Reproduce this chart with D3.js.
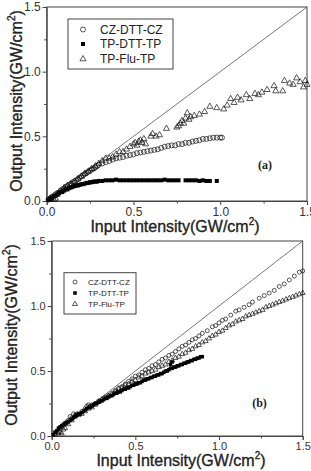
<!DOCTYPE html>
<html><head><meta charset="utf-8">
<script src="https://cdn.jsdelivr.net/npm/d3@7"></script>
<style>body{margin:0;background:#fff}svg{display:block}</style>
</head><body>
<svg id="c" width="311" height="471"></svg>
<script>
// ---------- DATA ----------
const seriesNames = ["CZ-DTT-CZ", "TP-DTT-TP", "TP-Flu-TP"];
const majorTicks = [0, 0.5, 1.0, 1.5];
const minorTicks = [0.25, 0.75, 1.25];
const panelLabels = ["(a)", "(b)"];

// Panel (a)
const aCZ = [[0.01,0.01],[0.02,0.02],[0.03,0.03],[0.04,0.035],[0.05,0.05],[0.06,0.06],[0.07,0.065],[0.08,0.08],[0.09,0.09],[0.10,0.095],[0.11,0.11],[0.12,0.115],[0.13,0.125],[0.14,0.135],[0.15,0.145],[0.16,0.15],[0.17,0.16],[0.18,0.17],[0.19,0.18],[0.20,0.19],[0.21,0.20],[0.22,0.21],[0.23,0.22],[0.24,0.225],[0.25,0.235],[0.26,0.245],[0.27,0.25],[0.28,0.26],[0.29,0.27],[0.30,0.28],[0.32,0.29],[0.34,0.30],[0.36,0.31],[0.38,0.32],[0.40,0.33],[0.42,0.335],[0.44,0.34],[0.46,0.35],[0.48,0.355],[0.50,0.36],[0.52,0.37],[0.54,0.375],[0.56,0.38],[0.58,0.385],[0.60,0.39],[0.62,0.395],[0.64,0.40],[0.66,0.41],[0.68,0.42],[0.70,0.425],[0.72,0.43],[0.74,0.43],[0.76,0.44],[0.78,0.44],[0.80,0.45],[0.82,0.45],[0.84,0.46],[0.86,0.465],[0.88,0.47],[0.90,0.48],[0.92,0.48],[0.94,0.485],[0.96,0.49],[0.98,0.49],[1.00,0.49],[1.01,0.49]];
const aTPDTT = [[0.01,0.01],[0.02,0.02],[0.03,0.02],[0.04,0.04],[0.05,0.04],[0.06,0.05],[0.07,0.06],[0.08,0.07],[0.09,0.07],[0.10,0.08],[0.11,0.09],[0.12,0.09],[0.13,0.10],[0.14,0.105],[0.15,0.11],[0.16,0.115],[0.17,0.12],[0.18,0.12],[0.19,0.125],[0.20,0.13],[0.21,0.13],[0.22,0.135],[0.23,0.14],[0.24,0.14],[0.25,0.145],[0.26,0.145],[0.27,0.15],[0.28,0.15],[0.29,0.15],[0.30,0.155],[0.32,0.155],[0.34,0.16],[0.36,0.16],[0.38,0.16],[0.40,0.165],[0.42,0.16],[0.44,0.16],[0.46,0.16],[0.48,0.16],[0.50,0.16],[0.52,0.16],[0.54,0.16],[0.56,0.16],[0.58,0.16],[0.60,0.16],[0.62,0.16],[0.64,0.16],[0.66,0.16],[0.68,0.165],[0.70,0.16],[0.72,0.16],[0.74,0.16],[0.76,0.16],[0.80,0.16],[0.82,0.16],[0.84,0.16],[0.86,0.16],[0.88,0.155],[0.90,0.16],[0.92,0.155],[0.94,0.155],[0.98,0.155]];
const aTPFlu = [[0.02,0.02],[0.04,0.01],[0.05,0.02],[0.06,0.05],[0.08,0.07],[0.10,0.10],[0.12,0.12],[0.14,0.13],[0.16,0.15],[0.18,0.17],[0.20,0.19],[0.22,0.21],[0.24,0.23],[0.26,0.25],[0.28,0.27],[0.30,0.29],[0.32,0.31],[0.34,0.33],[0.36,0.33],[0.38,0.34],[0.40,0.36],[0.42,0.38],[0.44,0.38],[0.46,0.40],[0.48,0.42],[0.50,0.44],[0.51,0.45],[0.52,0.43],[0.53,0.46],[0.54,0.47],[0.55,0.45],[0.56,0.48],[0.57,0.44],[0.60,0.50],[0.61,0.52],[0.63,0.50],[0.65,0.51],[0.69,0.56],[0.75,0.57],[0.76,0.58],[0.77,0.60],[0.78,0.62],[0.79,0.60],[0.80,0.64],[0.81,0.68],[0.82,0.63],[0.83,0.65],[0.85,0.66],[0.88,0.67],[0.91,0.69],[0.94,0.73],[0.98,0.72],[1.02,0.71],[1.04,0.74],[1.06,0.79],[1.08,0.76],[1.10,0.80],[1.12,0.78],[1.15,0.82],[1.17,0.79],[1.20,0.83],[1.22,0.82],[1.24,0.84],[1.27,0.86],[1.31,0.89],[1.32,0.85],[1.36,0.85],[1.37,0.93],[1.40,0.91],[1.42,0.90],[1.44,0.95],[1.46,0.92],[1.48,0.88],[1.49,0.93],[1.50,0.90]];

// Panel (b)
const bCZ = [[0.02,0.02],[0.04,0.03],[0.05,0.06],[0.06,0.07],[0.08,0.09],[0.09,0.11],[0.10,0.12],[0.11,0.15],[0.12,0.14],[0.13,0.17],[0.14,0.16],[0.15,0.17],[0.16,0.17],[0.18,0.19],[0.20,0.21],[0.21,0.23],[0.22,0.24],[0.23,0.23],[0.24,0.24],[0.26,0.25],[0.28,0.27],[0.30,0.28],[0.32,0.30],[0.34,0.31],[0.36,0.33],[0.38,0.35],[0.40,0.37],[0.42,0.38],[0.44,0.40],[0.46,0.42],[0.48,0.44],[0.50,0.46],[0.52,0.47],[0.54,0.49],[0.56,0.51],[0.58,0.52],[0.60,0.54],[0.62,0.55],[0.64,0.57],[0.66,0.59],[0.68,0.60],[0.70,0.62],[0.72,0.63],[0.74,0.65],[0.76,0.67],[0.78,0.69],[0.80,0.70],[0.82,0.72],[0.84,0.74],[0.86,0.75],[0.88,0.77],[0.90,0.79],[0.93,0.81],[0.96,0.84],[0.98,0.85],[1.00,0.87],[1.02,0.89],[1.04,0.90],[1.07,0.93],[1.10,0.96],[1.12,0.97],[1.15,0.99],[1.18,1.01],[1.20,1.03],[1.24,1.06],[1.27,1.08],[1.30,1.10],[1.33,1.12],[1.36,1.15],[1.39,1.17],[1.42,1.20],[1.45,1.23],[1.48,1.26],[1.50,1.27]];
const bTPDTT = [[0.01,0.01],[0.02,0.03],[0.03,0.04],[0.04,0.06],[0.05,0.07],[0.06,0.08],[0.07,0.09],[0.08,0.10],[0.09,0.10],[0.10,0.11],[0.11,0.12],[0.12,0.13],[0.13,0.14],[0.14,0.15],[0.15,0.16],[0.16,0.17],[0.17,0.17],[0.18,0.18],[0.19,0.19],[0.20,0.20],[0.21,0.21],[0.22,0.22],[0.23,0.22],[0.24,0.23],[0.25,0.24],[0.26,0.25],[0.27,0.25],[0.28,0.26],[0.29,0.27],[0.30,0.27],[0.31,0.28],[0.32,0.29],[0.33,0.29],[0.34,0.30],[0.35,0.31],[0.36,0.31],[0.37,0.32],[0.38,0.33],[0.39,0.33],[0.40,0.34],[0.41,0.34],[0.42,0.35],[0.43,0.36],[0.44,0.36],[0.45,0.37],[0.46,0.37],[0.47,0.38],[0.48,0.39],[0.49,0.39],[0.50,0.40],[0.51,0.40],[0.52,0.41],[0.53,0.41],[0.54,0.42],[0.55,0.43],[0.56,0.43],[0.57,0.44],[0.58,0.44],[0.59,0.45],[0.60,0.45],[0.61,0.46],[0.62,0.46],[0.63,0.47],[0.64,0.47],[0.65,0.48],[0.66,0.48],[0.67,0.49],[0.68,0.50],[0.69,0.50],[0.70,0.51],[0.71,0.52],[0.71,0.55],[0.72,0.52],[0.72,0.57],[0.73,0.53],[0.74,0.53],[0.75,0.54],[0.76,0.54],[0.77,0.55],[0.78,0.55],[0.79,0.56],[0.80,0.56],[0.81,0.57],[0.82,0.57],[0.83,0.58],[0.84,0.58],[0.85,0.59],[0.86,0.59],[0.87,0.60],[0.88,0.60],[0.89,0.61],[0.90,0.61]];
const bTPFlu = [[0.02,0.01],[0.04,0.02],[0.05,0.03],[0.06,0.02],[0.07,0.05],[0.08,0.06],[0.10,0.09],[0.12,0.12],[0.14,0.15],[0.16,0.16],[0.18,0.17],[0.20,0.19],[0.22,0.21],[0.24,0.22],[0.26,0.24],[0.28,0.26],[0.30,0.28],[0.32,0.29],[0.34,0.31],[0.36,0.32],[0.38,0.34],[0.40,0.36],[0.42,0.37],[0.44,0.39],[0.46,0.40],[0.48,0.42],[0.50,0.43],[0.52,0.45],[0.54,0.46],[0.56,0.48],[0.58,0.49],[0.60,0.50],[0.62,0.51],[0.64,0.53],[0.66,0.54],[0.68,0.55],[0.70,0.57],[0.72,0.58],[0.74,0.60],[0.76,0.61],[0.78,0.63],[0.80,0.64],[0.82,0.66],[0.84,0.67],[0.86,0.69],[0.88,0.70],[0.90,0.72],[0.92,0.73],[0.94,0.75],[0.96,0.77],[0.98,0.78],[1.00,0.80],[1.02,0.81],[1.04,0.83],[1.06,0.85],[1.08,0.86],[1.10,0.88],[1.12,0.89],[1.14,0.90],[1.16,0.92],[1.18,0.93],[1.20,0.94],[1.22,0.95],[1.24,0.96],[1.26,0.97],[1.28,0.99],[1.30,1.00],[1.32,1.01],[1.34,1.02],[1.36,1.03],[1.38,1.04],[1.40,1.05],[1.42,1.06],[1.44,1.07],[1.46,1.08],[1.48,1.09],[1.50,1.10]];

// ---------- DRAW ----------
const svg = d3.select("#c");
const FONT = "'Liberation Sans', Arial, sans-serif";

function drawPanel(o) {
  const x = d3.scaleLinear().domain([0, 1.5]).range([o.x0, o.x1]);
  const y = d3.scaleLinear().domain([0, 1.5]).range([o.y0, o.y1]);
  const g = svg.append("g");

  // frame
  g.append("rect").attr("x", o.x0).attr("y", o.y1).attr("width", o.x1 - o.x0).attr("height", o.y0 - o.y1)
    .attr("fill", "none").attr("stroke", "#444").attr("stroke-width", 1);

  // axes
  const xAx = d3.axisBottom(x).tickValues(majorTicks).tickFormat(d3.format(".1f")).tickSize(4).tickPadding(2);
  const yAx = d3.axisLeft(y).tickValues(majorTicks).tickFormat(d3.format(".1f")).tickSize(4).tickPadding(2);
  const gx = g.append("g").attr("transform", `translate(0,${o.y0})`).call(xAx);
  const gy = g.append("g").attr("transform", `translate(${o.x0},0)`).call(yAx);
  [gx, gy].forEach(a => {
    a.select(".domain").attr("stroke", "#444");
    a.selectAll(".tick line").attr("stroke", "#444");
    a.selectAll(".tick text").attr("font-family", FONT).attr("font-size", o.tickFs).attr("fill", "#333");
  });
  g.append("g").attr("transform", `translate(0,${o.y0})`)
    .call(d3.axisBottom(x).tickValues(minorTicks).tickFormat("").tickSize(2.5))
    .call(a => { a.select(".domain").remove(); a.selectAll("line").attr("stroke", "#444"); });
  g.append("g").attr("transform", `translate(${o.x0},0)`)
    .call(d3.axisLeft(y).tickValues(minorTicks).tickFormat("").tickSize(2.5))
    .call(a => { a.select(".domain").remove(); a.selectAll("line").attr("stroke", "#444"); });

  // diagonal y = x
  g.append("line").attr("x1", x(0)).attr("y1", y(0)).attr("x2", x(1.5)).attr("y2", y(1.5))
    .attr("stroke", "#555").attr("stroke-width", 0.8);

  // series
  const tri = d3.symbol().type(d3.symbolTriangle).size(o.triSize);
  g.append("g").selectAll("path").data(o.flu).join("path")
    .attr("d", tri).attr("transform", d => `translate(${x(d[0])},${y(d[1])})`)
    .attr("fill", "none").attr("stroke", "#111").attr("stroke-width", 0.7);
  g.append("g").selectAll("circle").data(o.cz).join("circle")
    .attr("cx", d => x(d[0])).attr("cy", d => y(d[1])).attr("r", o.r)
    .attr("fill", "none").attr("stroke", "#111").attr("stroke-width", 0.7);
  g.append("g").selectAll("rect").data(o.dtt).join("rect")
    .attr("x", d => x(d[0]) - o.sq / 2).attr("y", d => y(d[1]) - o.sq / 2)
    .attr("width", o.sq).attr("height", o.sq).attr("fill", "#000");

  // axis titles
  const xt = g.append("text").attr("x", o.xtX).attr("y", o.xtY).attr("text-anchor", "middle")
    .attr("font-family", FONT).attr("font-size", 16).attr("fill", "#222")
    .attr("stroke", "#222").attr("stroke-width", 0.35);
  xt.append("tspan").text("Input Intensity(GW/cm");
  xt.append("tspan").text("2").attr("font-size", 10).attr("dy", -7);
  xt.append("tspan").text(")").attr("dy", 7);

  const yt = g.append("text").attr("transform", `translate(${o.ytX},${o.ytY}) rotate(-90)`)
    .attr("text-anchor", "middle").attr("font-family", FONT).attr("font-size", 16).attr("fill", "#222")
    .attr("stroke", "#222").attr("stroke-width", 0.35);
  yt.append("tspan").text("Output Intensity(GW/cm");
  yt.append("tspan").text("2").attr("font-size", 10).attr("dy", -7);
  yt.append("tspan").text(")").attr("dy", 7);

  // legend
  const L = o.leg;
  g.append("rect").attr("x", L.x).attr("y", L.y).attr("width", L.w).attr("height", L.h)
    .attr("fill", "#fff").attr("stroke", "#444").attr("stroke-width", 1);
  seriesNames.forEach((name, i) => {
    const cy = L.rows[i];
    if (i === 0) g.append("circle").attr("cx", L.sx).attr("cy", cy).attr("r", o.r)
      .attr("fill", "none").attr("stroke", "#111").attr("stroke-width", 0.7);
    if (i === 1) g.append("rect").attr("x", L.sx - o.sq / 2).attr("y", cy - o.sq / 2)
      .attr("width", o.sq).attr("height", o.sq).attr("fill", "#000");
    if (i === 2) g.append("path").attr("d", tri).attr("transform", `translate(${L.sx},${cy})`)
      .attr("fill", "none").attr("stroke", "#111").attr("stroke-width", 0.7);
    g.append("text").attr("x", L.tx).attr("y", cy + L.fs * 0.36).text(name)
      .attr("font-family", FONT).attr("font-size", L.fs).attr("fill", "#222");
  });

  // panel label
  g.append("text").attr("x", o.lblX).attr("y", o.lblY).attr("text-anchor", "middle")
    .attr("font-family", "'Liberation Serif', 'Times New Roman', serif").attr("font-weight", "bold")
    .attr("font-size", 12).attr("fill", "#222").text(o.label);
}

drawPanel({
  x0: 46.7, x1: 307, y0: 201, y1: 7, tickFs: 12,
  cz: aCZ, dtt: aTPDTT, flu: aTPFlu, r: 2.5, sq: 4, triSize: 16,
  xtX: 175, xtY: 232, ytX: 22, ytY: 101,
  leg: { x: 68, y: 19, w: 105, h: 50, rows: [29.5, 44, 59], sx: 83, tx: 100, fs: 12 },
  label: panelLabels[0], lblX: 265, lblY: 169
});
drawPanel({
  x0: 51.7, x1: 302.7, y0: 436, y1: 241, tickFs: 11,
  cz: bCZ, dtt: bTPDTT, flu: bTPFlu, r: 2, sq: 3.5, triSize: 11,
  xtX: 181, xtY: 466, ytX: 17, ytY: 335,
  leg: { x: 64, y: 272.7, w: 72, h: 41.3, rows: [282, 293, 304], sx: 75, tx: 88, fs: 8 },
  label: panelLabels[1], lblX: 259.5, lblY: 407
});
</script>
</body></html>
